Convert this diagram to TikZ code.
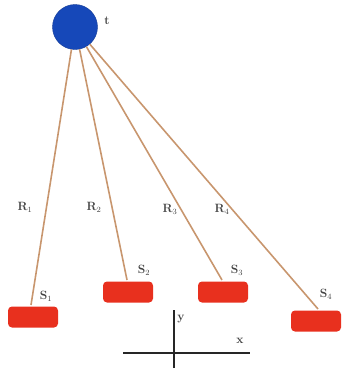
\documentclass[tikz,border=0pt]{standalone}
\begin{document}
\begin{tikzpicture}[x=1pt,y=-1pt,
  source/.style={circle,fill=srcblue,draw=srcblue!80!black,line width=0.4pt,minimum size=45pt,inner sep=0pt},
  sensor/.style={rectangle,rounded corners=4pt,fill=boxred,minimum width=50pt,minimum height=21pt,inner sep=0pt},
  ray/.style={draw=raytan,line width=1.6pt},
  lbl/.style={font=\large\bfseries,text=black!75,inner sep=0pt},
  axis/.style={draw=black!85,line width=1.3pt}]
\definecolor{srcblue}{RGB}{22,72,185}
\definecolor{boxred}{RGB}{232,48,30}
\definecolor{raytan}{RGB}{200,150,110}
\useasboundingbox (0,0) rectangle (342,375);

% source
\node[source] (t) at (75,27) {};
\node[lbl] (tl) at (107,21) {t};

% sensors
\node[sensor] (s1) at (33,317) {};
\node[sensor] (s2) at (128,292) {};
\node[sensor] (s3) at (223,292) {};
\node[sensor] (s4) at (316,321) {};

% ray end points
\coordinate (e1) at (31,305);
\coordinate (e2) at (127,280);
\coordinate (e3) at (222,280);
\coordinate (e4) at (318,309);

\draw[ray] (t) -- (e1);
\draw[ray] (t) -- (e2);
\draw[ray] (t) -- (e3);
\draw[ray] (t) -- (e4);

% range labels
\node[lbl] (r1) at (25,207) {R$_1$};
\node[lbl] (r2) at (94,207) {R$_2$};
\node[lbl] (r3) at (170,209) {R$_3$};
\node[lbl] (r4) at (222,209) {R$_4$};

% sensor labels
\node[lbl] (l1) at (46,296) {S$_1$};
\node[lbl] (l2) at (144,270) {S$_2$};
\node[lbl] (l3) at (237,270) {S$_3$};
\node[lbl] (l4) at (326,294) {S$_4$};

% axes
\coordinate (yb) at (174,368);
\coordinate (yt) at (174,310);
\coordinate (xl) at (123,353);
\coordinate (xr) at (250,353);
\draw[axis] (yb) -- (yt);
\draw[axis] (xl) -- (xr);
\node[lbl] (ly) at (181,319) {y};
\node[lbl] (lx) at (240,341) {x};
\end{tikzpicture}
\end{document}
